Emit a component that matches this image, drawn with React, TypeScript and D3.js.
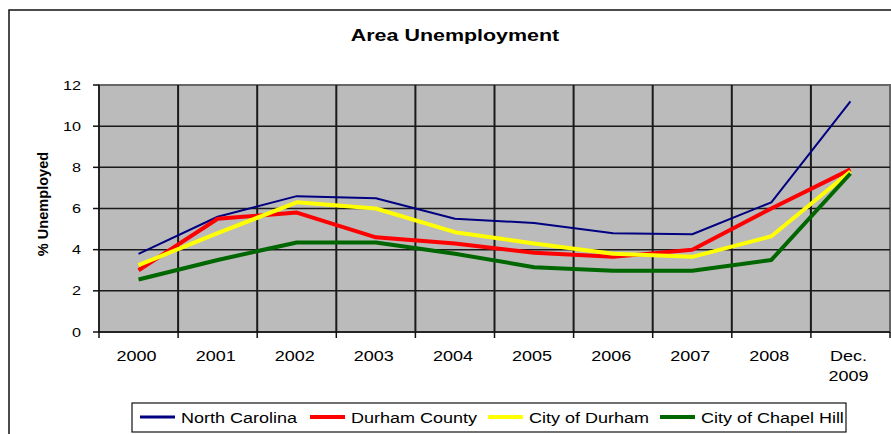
import { useEffect, useRef } from "react";
import * as d3 from "d3";

const WIDTH = 891;
const HEIGHT = 434;
const PLOT = { left: 99, right: 890, top: 85, bottom: 332 };
const FONT = "Liberation Sans, Arial, sans-serif";
const STRETCH = 1.2;

const categories = ["2000", "2001", "2002", "2003", "2004", "2005", "2006", "2007", "2008", "Dec. 2009"];
const yTicks = [0, 2, 4, 6, 8, 10, 12];

const northCarolina = [3.8, 5.6, 6.6, 6.5, 5.5, 5.3, 4.8, 4.75, 6.3, 11.2];
const durhamCounty = [3.0, 5.5, 5.8, 4.6, 4.3, 3.85, 3.65, 4.0, 6.0, 7.9];
const cityOfDurham = [3.25, 4.8, 6.3, 6.0, 4.85, 4.3, 3.8, 3.65, 4.65, 7.8];
const chapelHill = [2.55, 3.5, 4.35, 4.35, 3.8, 3.15, 2.98, 2.98, 3.5, 7.7];

type Series = { name: string; values: number[]; color: string; width: number };

const series: Series[] = [
  { name: "North Carolina", values: northCarolina, color: "#000080", width: 2 },
  { name: "Durham County", values: durhamCounty, color: "#ff0000", width: 4 },
  { name: "City of Durham", values: cityOfDurham, color: "#ffff00", width: 4 },
  { name: "City of Chapel Hill", values: chapelHill, color: "#006600", width: 4 },
];

// legend entries: sample line start x
const legendSlots = [140, 310, 488, 660];

export default function App() {
  const svgRef = useRef<SVGSVGElement>(null);

  useEffect(() => {
    if (!svgRef.current) return;
    const svg = d3.select(svgRef.current);
    svg.selectAll("*").remove();

    const x = d3.scaleBand<string>().domain(categories).range([PLOT.left, PLOT.right]);
    const y = d3.scaleLinear().domain([0, 12]).range([PLOT.bottom, PLOT.top]);

    // outer chart border
    svg.append("rect")
      .attr("x", 9).attr("y", 10)
      .attr("width", 900).attr("height", 450)
      .attr("fill", "white")
      .attr("stroke", "#111").attr("stroke-width", 1.5);

    svg.append("text")
      .attr("transform", `translate(455,41) scale(1.3,1)`)
      .attr("text-anchor", "middle")
      .style("font-family", FONT).style("font-size", "16.5px").style("font-weight", "bold")
      .text("Area Unemployment");

    // plot background
    svg.append("rect")
      .attr("x", PLOT.left).attr("y", PLOT.top)
      .attr("width", PLOT.right - PLOT.left).attr("height", PLOT.bottom - PLOT.top)
      .attr("fill", "#bbbbbb")
      .attr("stroke", "#666").attr("stroke-width", 2);

    // horizontal gridlines
    svg.append("g").selectAll("line")
      .data(yTicks.filter((t) => t > 0 && t < 12))
      .join("line")
      .attr("x1", PLOT.left).attr("x2", PLOT.right)
      .attr("y1", (d) => y(d)).attr("y2", (d) => y(d))
      .attr("stroke", "#1a1a1a").attr("stroke-width", 1.5);

    // vertical gridlines at category boundaries
    svg.append("g").selectAll("line")
      .data(categories.slice(1))
      .join("line")
      .attr("x1", (d) => x(d)!).attr("x2", (d) => x(d)!)
      .attr("y1", PLOT.top).attr("y2", PLOT.bottom)
      .attr("stroke", "#1a1a1a").attr("stroke-width", 2);

    // axes
    svg.append("line")
      .attr("x1", PLOT.left).attr("x2", PLOT.left)
      .attr("y1", PLOT.top).attr("y2", PLOT.bottom)
      .attr("stroke", "#111").attr("stroke-width", 1.5);
    svg.append("line")
      .attr("x1", PLOT.left).attr("x2", PLOT.right)
      .attr("y1", PLOT.bottom).attr("y2", PLOT.bottom)
      .attr("stroke", "#111").attr("stroke-width", 1.5);

    // y ticks and labels
    const yg = svg.append("g").selectAll("g").data(yTicks).join("g");
    yg.append("line")
      .attr("x1", PLOT.left - 6).attr("x2", PLOT.left)
      .attr("y1", (d) => y(d)).attr("y2", (d) => y(d))
      .attr("stroke", "#111").attr("stroke-width", 1.5);
    yg.append("text")
      .attr("transform", (d) => `translate(81,${y(d) + 4.5}) scale(${STRETCH},1)`)
      .attr("text-anchor", "end")
      .style("font-family", FONT).style("font-size", "13.5px")
      .text((d) => d);

    // x ticks at band edges
    svg.append("g").selectAll("line")
      .data([...categories.map((c) => x(c)!), PLOT.right])
      .join("line")
      .attr("x1", (d) => d).attr("x2", (d) => d)
      .attr("y1", PLOT.bottom).attr("y2", PLOT.bottom + 6)
      .attr("stroke", "#111").attr("stroke-width", 1.5);

    // x labels (multi-line for "Dec. 2009")
    const xl = svg.append("g").selectAll("g").data(categories).join("g")
      .attr("transform", (d) => `translate(${x(d)! + x.bandwidth() / 2 - 2},361)`);
    xl.each(function (d) {
      const parts = d.split(" ");
      d3.select(this).selectAll("text").data(parts).join("text")
        .attr("transform", (_, i) => `translate(0,${i * 19.5}) scale(${STRETCH},1)`)
        .attr("text-anchor", "middle")
        .style("font-family", FONT).style("font-size", "15px")
        .text((p) => p);
    });

    // y title
    svg.append("text")
      .attr("transform", "translate(48,204) rotate(-90) scale(1.12,1.15)")
      .attr("text-anchor", "middle")
      .style("font-family", FONT).style("font-size", "13px").style("font-weight", "bold")
      .text("% Unemployed");

    // series lines
    const line = d3.line<number>()
      .x((_, i) => x(categories[i])! + x.bandwidth() / 2)
      .y((v) => y(v));

    svg.append("g").selectAll("path")
      .data(series)
      .join("path")
      .attr("d", (s) => line(s.values))
      .attr("fill", "none")
      .attr("stroke", (s) => s.color)
      .attr("stroke-width", (s) => s.width)
      .attr("stroke-linejoin", "round");

    // legend
    svg.append("rect")
      .attr("x", 132).attr("y", 403)
      .attr("width", 714).attr("height", 29)
      .attr("fill", "white")
      .attr("stroke", "#111").attr("stroke-width", 1.2);

    const lg = svg.append("g").selectAll("g").data(series).join("g")
      .attr("transform", (_, i) => `translate(${legendSlots[i]},417)`);
    lg.append("line")
      .attr("x1", 0).attr("x2", 35)
      .attr("stroke", (s) => s.color)
      .attr("stroke-width", (s) => (s.width > 2 ? 4 : 3));
    lg.append("text")
      .attr("transform", `translate(41,5.5) scale(${STRETCH},1)`)
      .style("font-family", FONT).style("font-size", "15px")
      .text((s) => s.name);
  }, []);

  return (
    <svg
      ref={svgRef}
      width={WIDTH}
      height={HEIGHT}
      style={{ position: "absolute", left: 0, top: 0, background: "white" }}
    />
  );
}
